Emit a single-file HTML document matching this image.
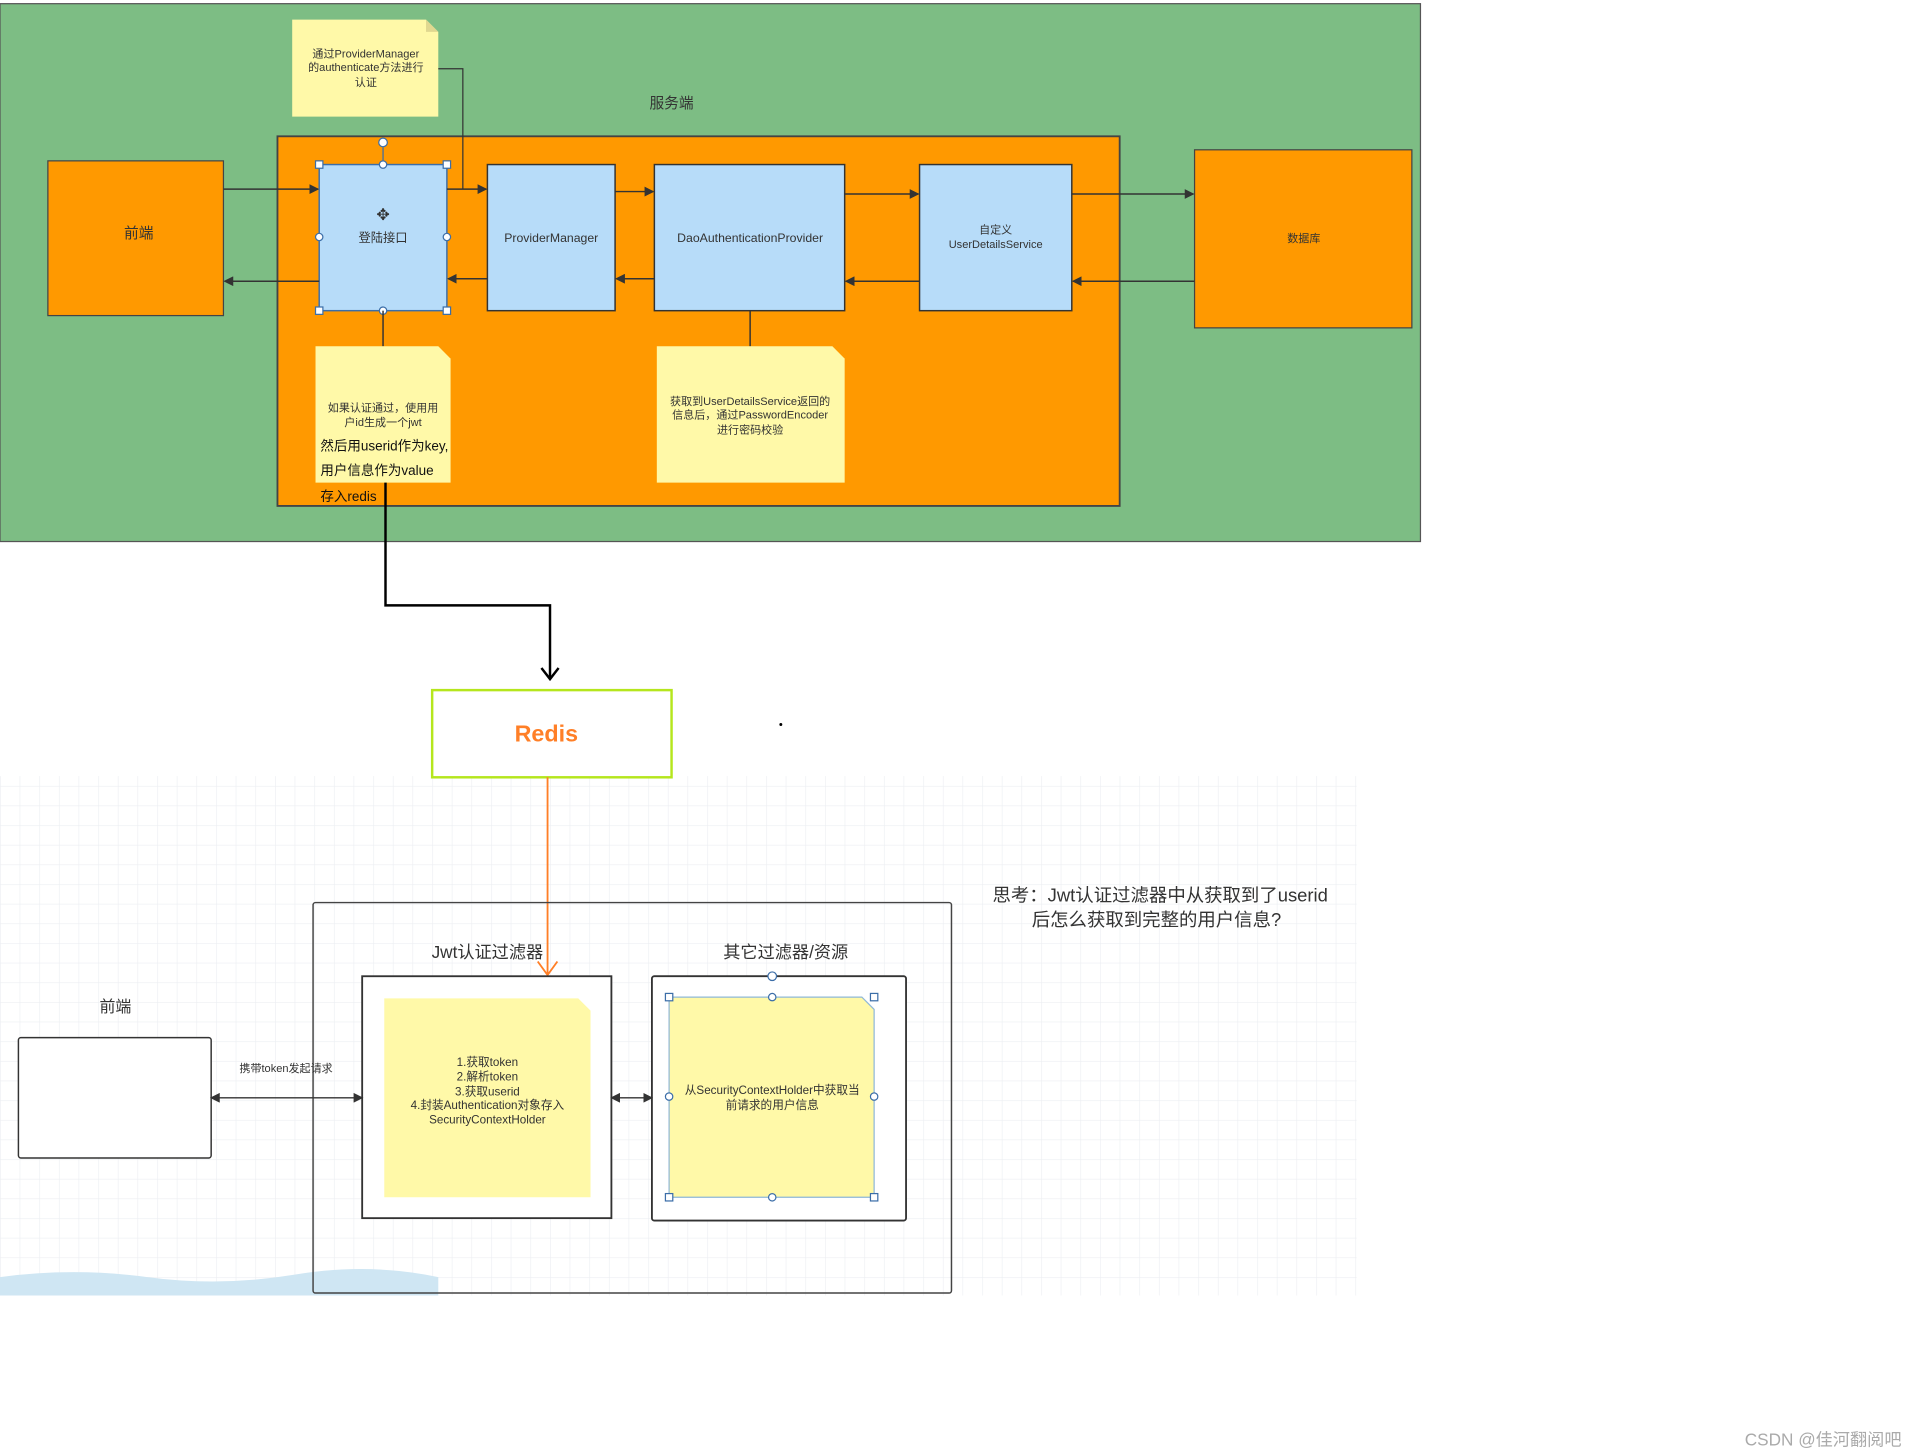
<!DOCTYPE html>
<html><head><meta charset="utf-8"><style>
html,body{margin:0;padding:0;background:#fff;width:1914px;height:1449px;overflow:hidden}
svg text{font-family:"Liberation Sans","Noto Sans CJK SC",sans-serif;fill:#333}
</style></head><body>
<svg width="1914" height="1449" viewBox="0 0 1559 1180" preserveAspectRatio="none" xmlns="http://www.w3.org/2000/svg">
<defs>
<marker id="a" markerWidth="8" markerHeight="8" refX="7" refY="4" orient="auto" markerUnits="userSpaceOnUse"><path d="M0,0 L8,4 L0,8 z" fill="#333"/></marker>
<marker id="b" markerWidth="8" markerHeight="8" refX="1" refY="4" orient="auto" markerUnits="userSpaceOnUse"><path d="M8,0 L0,4 L8,8 z" fill="#333"/></marker>
<pattern id="g" width="16" height="16" patternUnits="userSpaceOnUse"><path d="M16 0 L0 0 0 16" fill="none" stroke="#eceef2" stroke-width="1"/></pattern>
</defs>
<!-- top green -->
<rect x="0" y="3" width="1157" height="438" fill="#7dbd84" stroke="#555" stroke-width="1"/>
<text x="547" y="88" font-size="12" text-anchor="middle">服务端</text>
<rect x="226" y="111" width="686" height="301" fill="#ff9900" stroke="#444" stroke-width="1.5"/>
<!-- top note -->
<path d="M238,16 H347 L357,26 V95 H238 Z" fill="#fff9a8"/>
<path d="M347,16 V26 H357" fill="#e0d890"/>
<text font-size="9" text-anchor="middle"><tspan x="298" y="47">通过ProviderManager</tspan><tspan x="298" y="58">的authenticate方法进行</tspan><tspan x="298" y="70">认证</tspan></text>
<polyline points="357,56 377,56 377,154" fill="none" stroke="#333"/>
<!-- boxes -->
<rect x="39" y="131" width="143" height="126" fill="#ff9900" stroke="#444"/>
<text x="113" y="194" font-size="12" text-anchor="middle">前端</text>
<rect x="260" y="134" width="104" height="119" fill="#b7dcf9" stroke="#3c6ea8" stroke-width="1.2"/>
<text x="312" y="197" font-size="10" text-anchor="middle">登陆接口</text>
<text x="312" y="179" font-size="13" text-anchor="middle">✥</text>
<rect x="397" y="134" width="104" height="119" fill="#b7dcf9" stroke="#333" stroke-width="1.2"/>
<text x="449" y="197" font-size="10" text-anchor="middle">ProviderManager</text>
<rect x="533" y="134" width="155" height="119" fill="#b7dcf9" stroke="#333" stroke-width="1.2"/>
<text x="611" y="197" font-size="10" text-anchor="middle">DaoAuthenticationProvider</text>
<rect x="749" y="134" width="124" height="119" fill="#b7dcf9" stroke="#333" stroke-width="1.2"/>
<text font-size="9" text-anchor="middle"><tspan x="811" y="190">自定义</tspan><tspan x="811" y="202">UserDetailsService</tspan></text>
<rect x="973" y="122" width="177" height="145" fill="#ff9900" stroke="#444"/>
<text x="1062" y="197" font-size="9" text-anchor="middle">数据库</text>
<!-- selection handles -->
<g fill="#fff" stroke="#3c6ea8">
<rect x="257" y="131" width="6" height="6"/><rect x="361" y="131" width="6" height="6"/><rect x="257" y="250" width="6" height="6"/><rect x="361" y="250" width="6" height="6"/>
<circle cx="312" cy="134" r="3"/><circle cx="312" cy="253" r="3"/><circle cx="260" cy="193" r="3"/><circle cx="364" cy="193" r="3"/><circle cx="312" cy="116" r="3.5"/>
</g>
<line x1="312" y1="120" x2="312" y2="131" stroke="#3c6ea8"/>
<!-- arrows -->
<g stroke="#333" stroke-width="1.2" fill="none">
<line x1="182" y1="154" x2="259" y2="154" marker-end="url(#a)"/>
<line x1="260" y1="229" x2="183" y2="229" marker-end="url(#a)"/>
<line x1="364" y1="154" x2="396" y2="154" marker-end="url(#a)"/>
<line x1="397" y1="227" x2="365" y2="227" marker-end="url(#a)"/>
<line x1="501" y1="156" x2="532" y2="156" marker-end="url(#a)"/>
<line x1="533" y1="227" x2="502" y2="227" marker-end="url(#a)"/>
<line x1="688" y1="158" x2="748" y2="158" marker-end="url(#a)"/>
<line x1="749" y1="229" x2="689" y2="229" marker-end="url(#a)"/>
<line x1="873" y1="158" x2="972" y2="158" marker-end="url(#a)"/>
<line x1="973" y1="229" x2="874" y2="229" marker-end="url(#a)"/>
<line x1="312" y1="253" x2="312" y2="282"/>
<line x1="611" y1="253" x2="611" y2="282"/>
</g>
<!-- notes -->
<path d="M257,282 H357 L367,292 V393 H257 Z" fill="#fff9a8"/>
<text font-size="9" text-anchor="middle"><tspan x="312" y="335">如果认证通过，使用用</tspan><tspan x="312" y="347">户id生成一个jwt</tspan></text>
<text font-size="11" fill="#111" style="fill:#111"><tspan x="261" y="367">然后用userid作为key,</tspan><tspan x="261" y="387">用户信息作为value</tspan><tspan x="261" y="408">存入redis</tspan></text>
<path d="M535,282 H678 L688,292 V393 H535 Z" fill="#fff9a8"/>
<text font-size="9" text-anchor="middle"><tspan x="611" y="330">获取到UserDetailsService返回的</tspan><tspan x="611" y="341">信息后，通过PasswordEncoder</tspan><tspan x="611" y="353">进行密码校验</tspan></text>
<!-- redis connector -->
<polyline points="314,393 314,493 448,493 448,552" fill="none" stroke="#000" stroke-width="2"/>
<polyline points="441,544 448,553 455,544" fill="none" stroke="#000" stroke-width="2"/>
<rect x="0" y="632" width="1105" height="423" fill="url(#g)"/>
<path d="M0,1040 Q60,1032 120,1040 T240,1038 T357,1040 V1055 H0 Z" fill="#cfe6f3"/>
<rect x="352" y="562" width="195" height="71" fill="#fff" stroke="#b5e61d" stroke-width="2"/>
<text x="445" y="604" font-size="19" font-weight="bold" text-anchor="middle" style="fill:#ff7f27">Redis</text>
<circle cx="636" cy="590" r="1.2" fill="#000"/>
<line x1="446" y1="633" x2="446" y2="793" stroke="#ff7f27" stroke-width="1.5"/>
<polyline points="438,783 446,794 454,783" fill="none" stroke="#ff7f27" stroke-width="1.5"/>
<!-- bottom -->
<rect x="255" y="735" width="520" height="318" fill="none" stroke="#444" stroke-width="1.2" rx="2"/>
<text x="397" y="780" font-size="14" text-anchor="middle">Jwt认证过滤器</text>
<text x="640" y="780" font-size="14" text-anchor="middle">其它过滤器/资源</text>
<rect x="295" y="795" width="203" height="197" fill="#fff" stroke="#333" stroke-width="1.5"/>
<path d="M313,813 H471 L481,823 V975 H313 Z" fill="#fff9a8"/>
<text font-size="9.5" text-anchor="middle"><tspan x="397" y="868">1.获取token</tspan><tspan x="397" y="880">2.解析token</tspan><tspan x="397" y="892">3.获取userid</tspan><tspan x="397" y="903">4.封装Authentication对象存入</tspan><tspan x="397" y="915">SecurityContextHolder</tspan></text>
<rect x="531" y="795" width="207" height="199" fill="#fff" stroke="#333" stroke-width="1.5" rx="2"/>
<path d="M545,812 H702 L712,822 V975 H545 Z" fill="#fff9a8" stroke="#8fb8d8"/>
<text font-size="9.5" text-anchor="middle"><tspan x="629" y="891">从SecurityContextHolder中获取当</tspan><tspan x="629" y="903">前请求的用户信息</tspan></text>
<g fill="#fff" stroke="#3c6ea8"><rect x="542" y="809" width="6" height="6"/><rect x="709" y="809" width="6" height="6"/><rect x="542" y="972" width="6" height="6"/><rect x="709" y="972" width="6" height="6"/>
<circle cx="629" cy="812" r="3"/><circle cx="629" cy="975" r="3"/><circle cx="545" cy="893" r="3"/><circle cx="712" cy="893" r="3"/><circle cx="629" cy="795" r="3.5"/></g>
<line x1="498" y1="894" x2="531" y2="894" stroke="#333" stroke-width="1.2" marker-end="url(#a)" marker-start="url(#b)"/>
<text x="94" y="824" font-size="13" text-anchor="middle">前端</text>
<rect x="15" y="845" width="157" height="98" fill="#fff" stroke="#333" stroke-width="1.2" rx="2"/>
<line x1="172" y1="894" x2="295" y2="894" stroke="#333" stroke-width="1.2" marker-end="url(#a)" marker-start="url(#b)"/>
<text x="233" y="873" font-size="9" text-anchor="middle">携带token发起请求</text>
<text font-size="15" text-anchor="middle"><tspan x="945" y="734">思考：Jwt认证过滤器中从获取到了userid</tspan><tspan x="942" y="754">后怎么获取到完整的用户信息?</tspan></text>
<text x="1485" y="1177" font-size="14" text-anchor="middle" style="fill:#aaa">CSDN @佳河翻阅吧</text>
</svg>
</body></html>
